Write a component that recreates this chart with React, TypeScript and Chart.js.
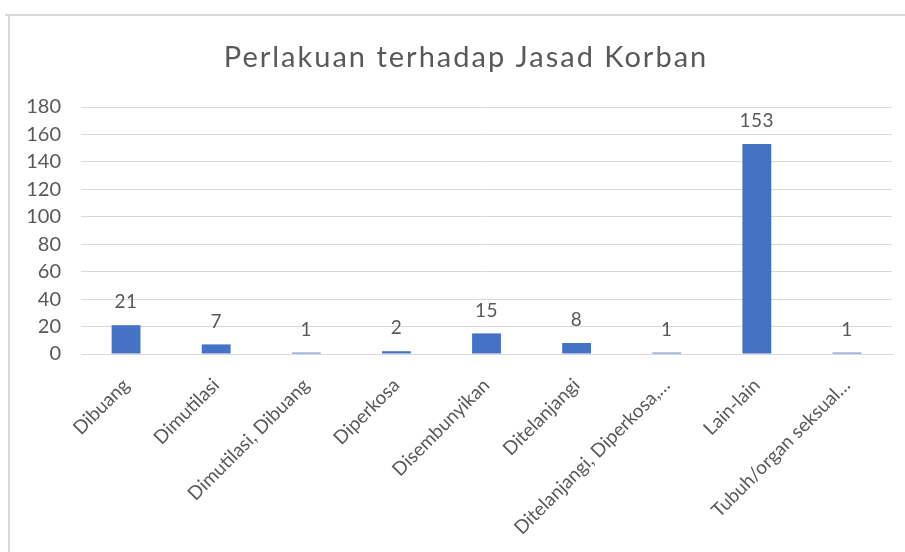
import React, { useEffect, useRef } from "react";
import { Chart, registerables } from "chart.js";

Chart.register(...registerables);

const TITLE = "Perlakuan terhadap Jasad Korban";
const categories = [
  "Dibuang",
  "Dimutilasi",
  "Dimutilasi, Dibuang",
  "Diperkosa",
  "Disembunyikan",
  "Ditelanjangi",
  "Ditelanjangi, Diperkosa,…",
  "Lain-lain",
  "Tubuh/organ seksual…",
];
const values = [21, 7, 1, 2, 15, 8, 1, 153, 1];
const yMin = 0;
const yMax = 180;
const yStep = 20;

const TEXT = "#595959";
const GRID = "#d9d9d9";
const BAR = "#4472C4";
const FONT = "Lato, 'Open Sans', sans-serif";

const titlePlugin = {
  id: "customTitle",
  afterDraw(chart: any) {
    const ctx = chart.ctx;
    ctx.save();
    ctx.letterSpacing = "2px";
    ctx.fillStyle = TEXT;
    ctx.font = `29px ${FONT}`;
    ctx.textAlign = "center";
    ctx.textBaseline = "middle";
    ctx.fillText(TITLE, 466, 58);
    ctx.restore();
  },
};

const labelPlugin = {
  id: "valueLabels",
  afterDatasetsDraw(chart: any) {
    const ctx = chart.ctx;
    const meta = chart.getDatasetMeta(0);
    ctx.save();
    ctx.letterSpacing = "0.5px";
    ctx.fillStyle = TEXT;
    ctx.font = `19px ${FONT}`;
    ctx.textAlign = "center";
    ctx.textBaseline = "middle";
    meta.data.forEach((el: any, i: number) => {
      ctx.fillText(String(chart.data.datasets[0].data[i]), el.x, el.y - 23);
    });
    ctx.restore();
  },
};

export default function App() {
  const ref = useRef<HTMLCanvasElement | null>(null);
  useEffect(() => {
    if (!ref.current) return;
    const chart = new Chart(ref.current, {
      type: "bar",
      data: {
        labels: categories,
        datasets: [
          {
            data: values,
            backgroundColor: BAR,
            barPercentage: 0.32,
            categoryPercentage: 1,
          },
        ],
      },
      options: {
        animation: false,
        responsive: false,
        maintainAspectRatio: false,
        layout: { padding: { left: 0, right: 13, top: 107, bottom: 0 } },
        plugins: {
          legend: { display: false },
          tooltip: { enabled: false },
          title: { display: false },
        },
        scales: {
          x: {
            grid: { display: false, drawTicks: false },
            border: { display: true, color: GRID, width: 1 },
            ticks: {
              color: TEXT,
              font: { family: FONT, size: 19 },
              maxRotation: 45,
              minRotation: 45,
              autoSkip: false,
              padding: 20,
            },
            afterFit(scale: any) {
              scale.height = 198;
            },
          },
          y: {
            min: yMin,
            max: yMax,
            grid: { color: GRID, drawTicks: false },
            border: { display: false },
            ticks: {
              stepSize: yStep,
              color: TEXT,
              font: { family: FONT, size: 20 },
              padding: 20,
            },
            afterFit(scale: any) {
              scale.width = 81;
            },
          },
        },
      },
      plugins: [labelPlugin, titlePlugin],
    });
    return () => chart.destroy();
  }, []);

  return (
    <div style={{ position: "absolute", left: 0, top: 0, width: 905, height: 552, background: "#fff" }}>
      <div style={{ position: "absolute", left: 5, top: 14, width: 900, height: 2, background: "#d9d9d9" }} />
      <div style={{ position: "absolute", left: 8, top: 14, width: 2, height: 538, background: "#d9d9d9" }} />
      <canvas ref={ref} width={905} height={552} style={{ position: "absolute", left: 0, top: 0 }} />
    </div>
  );
}
